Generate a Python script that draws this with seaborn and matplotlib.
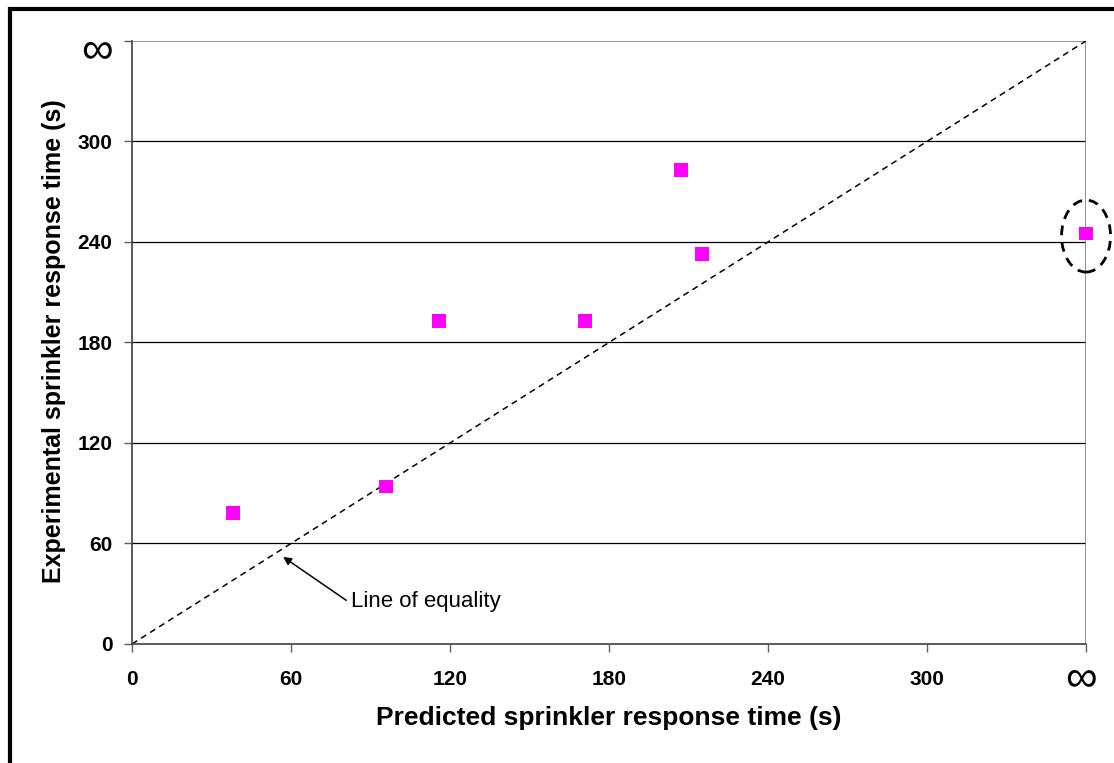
import matplotlib
matplotlib.use("Agg")
import matplotlib.pyplot as plt
import seaborn as sns
import pandas as pd
from matplotlib.patches import Ellipse

# Measured sprinkler activation times (s); 360 on either axis stands for "no activation" (infinity)
predicted = [38, 96, 116, 171, 207, 215, 360]
experimental = [78, 94, 193, 193, 283, 233, 245]

tick_values = [0, 60, 120, 180, 240, 300, 360]
tick_labels = ["0", "60", "120", "180", "240", "300", ""]
infinity_label = "\u221e"

df = pd.DataFrame({"predicted": predicted, "experimental": experimental})

sns.set_theme(style="white")
plt.rcParams["font.family"] = ["Liberation Sans", "DejaVu Sans"]
plt.rcParams["text.color"] = "black"
plt.rcParams["axes.labelcolor"] = "black"
plt.rcParams["xtick.color"] = "black"
plt.rcParams["ytick.color"] = "black"

fig = plt.figure(figsize=(11.14, 7.63), dpi=100)
ax = fig.add_axes([0.1185, 0.156, 0.8564, 0.7904])

# horizontal gridlines
for v in tick_values[1:-1]:
    ax.axhline(v, color="black", lw=0.9, zorder=0)
ax.axhline(360, color="#808080", lw=1.2, zorder=0)
ax.axvline(360, color="#808080", lw=1.2, zorder=0)

# line of equality
ax.plot([0, 360], [0, 360], ls=(0, (4, 3)), color="black", lw=1.1, zorder=1)

sns.scatterplot(data=df, x="predicted", y="experimental", marker="s", s=100,
                color="#FF00FF", edgecolor="none", ax=ax, zorder=3, clip_on=False)

# dashed ring around the non-activation case
ax.add_patch(Ellipse((360, 243.5), 18.5, 43, fill=False, ls=(0, (3.5, 2.5)),
                     lw=2, color="black", clip_on=False, zorder=4))

ax.annotate("Line of equality", xy=(57, 52), xytext=(82.5, 25.5),
            fontsize=16, va="center", ha="left",
            arrowprops=dict(arrowstyle="-|>", color="black", lw=1.1,
                            mutation_scale=12, shrinkA=1, shrinkB=0,
                            relpos=(0, 0.4)))

ax.set_xlim(0, 360)
ax.set_ylim(0, 360)
ax.set_xticks(tick_values)
ax.set_yticks(tick_values)
ax.set_xticklabels(tick_labels, fontsize=15, fontweight="bold")
ax.set_yticklabels(tick_labels, fontsize=15, fontweight="bold")

# infinity labels at the open ends of both axes
ax.text(-0.0365, 0.983, infinity_label, transform=ax.transAxes, fontsize=32,
        ha="center", va="center")
ax.text(0.995, -0.057, infinity_label, transform=ax.transAxes, fontsize=32,
        ha="center", va="center")

ax.tick_params(axis="x", direction="out", length=6, width=1, color="#606060",
               bottom=True, pad=13)
ax.tick_params(axis="y", direction="out", length=6, width=1, color="#606060",
               left=True, pad=8)

for side in ["top", "right"]:
    ax.spines[side].set_visible(False)
for side in ["left", "bottom"]:
    ax.spines[side].set_color("#404040")
    ax.spines[side].set_linewidth(1.2)

ax.set_xlabel("Predicted sprinkler response time (s)", fontsize=19, fontweight="bold",
              va="center")
ax.xaxis.set_label_coords(0.5, (644 - 718) / 603)
ax.set_ylabel("Experimental sprinkler response time (s)", fontsize=18, fontweight="bold",
              va="center")
ax.yaxis.set_label_coords((54 - 132) / 954, (644 - 341) / 603)

# outer frame of the figure (top and left edges visible)
fig.add_artist(plt.Rectangle((9.5 / 1114, -0.1), 1.2, 1.1 - 9.5 / 763,
                             transform=fig.transFigure, fill=False,
                             lw=3, color="black"))

fig.savefig("out.png", dpi=100, facecolor="white")
